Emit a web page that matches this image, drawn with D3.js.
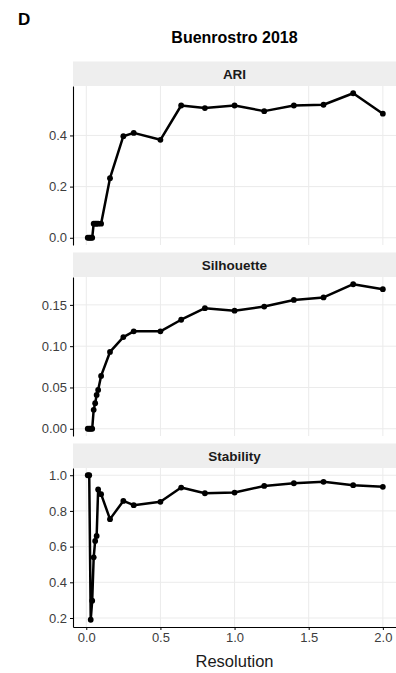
<!DOCTYPE html>
<html>
<head>
<meta charset="utf-8">
<script src="https://cdn.jsdelivr.net/npm/d3@7"></script>
<style>
  body { margin: 0; background: #fff; }
  svg { display: block; font-family: 'Liberation Sans', Arial, sans-serif; }
</style>
</head>
<body>
<svg id="chart"></svg>
<script>
// values (Buenrostro 2018 clustering sweep)
const resolution = [0.01, 0.02, 0.03, 0.04, 0.05, 0.06, 0.07, 0.08, 0.1, 0.16,
  0.25, 0.32, 0.5, 0.64, 0.8, 1.0, 1.2, 1.4, 1.6, 1.8, 2.0];
const ari = [0, 0, 0, 0, 0.055, 0.055, 0.055, 0.055, 0.055, 0.233,
  0.397, 0.41, 0.383, 0.517, 0.507, 0.517, 0.495, 0.517, 0.52, 0.565, 0.485];
const silhouette = [0, 0, 0, 0, 0.023, 0.031, 0.041, 0.047, 0.064, 0.093,
  0.111, 0.118, 0.118, 0.132, 0.146, 0.143, 0.148, 0.156, 0.159, 0.175, 0.169];
const stability = [1.0, 1.0, 0.19, 0.297, 0.54, 0.632, 0.66, 0.92, 0.894, 0.754,
  0.856, 0.832, 0.851, 0.931, 0.899, 0.903, 0.94, 0.955, 0.963, 0.944, 0.935];
const metricNames = ['ARI', 'Silhouette', 'Stability'];
const xTicks = [0, 0.5, 1, 1.5, 2];
const yTicks = [[0, 0.2, 0.4], [0, 0.05, 0.1, 0.15], [0.2, 0.4, 0.6, 0.8, 1.0]];
const yFormats = ['.1f', '.2f', '.1f'];

const W = 396, H = 673;
const left = 73, right = 397.6;
const top0 = 61.5, stripH = 24.5, panelH = 159, step = 191;
const textCol = '#3d3d3d', gridCol = '#ebebeb';

const svg = d3.select('#chart').attr('width', W).attr('height', H);

// ggplot style 5% expansion
const expand = ext => {
  const pad = (ext[1] - ext[0]) * 0.05;
  return [ext[0] - pad, ext[1] + pad];
};

const x = d3.scaleLinear().domain(expand(d3.extent(resolution))).range([left, right]);

svg.append('text')
  .attr('x', 18).attr('y', 25)
  .attr('font-size', 17).attr('font-weight', 'bold')
  .text('D');

svg.append('text')
  .attr('x', (left + W) / 2).attr('y', 43)
  .attr('text-anchor', 'middle')
  .attr('font-size', 16).attr('font-weight', 'bold')
  .text('Buenrostro 2018');

const series = [ari, silhouette, stability];

series.forEach((values, i) => {
  const stripTop = top0 + i * step;
  const pTop = stripTop + stripH;
  const pBot = pTop + panelH;
  const y = d3.scaleLinear().domain(expand(d3.extent(values))).range([pBot, pTop]);
  const g = svg.append('g');

  // strip
  g.append('rect')
    .attr('x', left).attr('y', stripTop)
    .attr('width', W - left).attr('height', stripH)
    .attr('fill', '#eeeeee');
  g.append('text')
    .attr('x', (left + W) / 2).attr('y', stripTop + stripH / 2)
    .attr('dy', '0.36em')
    .attr('text-anchor', 'middle')
    .attr('font-size', 13.5).attr('font-weight', 'bold')
    .attr('fill', '#1a1a1a')
    .text(metricNames[i]);

  // grid
  g.selectAll('.gx').data(xTicks).enter().append('line')
    .attr('x1', d => x(d)).attr('x2', d => x(d))
    .attr('y1', pTop).attr('y2', pBot)
    .attr('stroke', gridCol).attr('stroke-width', 1);
  g.selectAll('.gy').data(yTicks[i]).enter().append('line')
    .attr('x1', left).attr('x2', W)
    .attr('y1', d => y(d)).attr('y2', d => y(d))
    .attr('stroke', gridCol).attr('stroke-width', 1);

  // y axis
  const yAxis = g.append('g')
    .attr('transform', `translate(${left},0)`)
    .call(d3.axisLeft(y).tickValues(yTicks[i]).tickFormat(d3.format(yFormats[i]))
      .tickSize(3).tickPadding(3).tickSizeOuter(0));
  yAxis.select('.domain').attr('stroke', '#000').attr('stroke-width', 1.1);
  yAxis.selectAll('.tick line').attr('stroke', '#000');
  yAxis.selectAll('.tick text').attr('font-size', 13).attr('fill', textCol)
    .attr('font-family', "'Liberation Sans', Arial, sans-serif");

  // line + points
  const pts = resolution.map((r, j) => [r, values[j]]);
  g.append('path')
    .datum(pts)
    .attr('fill', 'none')
    .attr('stroke', '#000')
    .attr('stroke-width', 2.5)
    .attr('stroke-linejoin', 'round')
    .attr('d', d3.line().x(d => x(d[0])).y(d => y(d[1])));
  g.selectAll('circle').data(pts).enter().append('circle')
    .attr('cx', d => x(d[0])).attr('cy', d => y(d[1]))
    .attr('r', 2.9).attr('fill', '#000');

  if (i === series.length - 1) {
    const xAxis = g.append('g')
      .attr('transform', `translate(0,${pBot})`)
      .call(d3.axisBottom(x).tickValues(xTicks).tickFormat(d3.format('.1f'))
        .tickSize(3).tickPadding(3).tickSizeOuter(0));
    xAxis.select('.domain').attr('stroke', '#000').attr('stroke-width', 1.1);
    xAxis.selectAll('.tick line').attr('stroke', '#000');
    xAxis.selectAll('.tick text').attr('font-size', 13).attr('fill', textCol)
      .attr('font-family', "'Liberation Sans', Arial, sans-serif");

    svg.append('text')
      .attr('x', (left + W) / 2).attr('y', pBot + 40)
      .attr('text-anchor', 'middle')
      .attr('font-size', 16.5).attr('fill', '#1a1a1a')
      .text('Resolution');
  }
});
</script>
</body>
</html>
